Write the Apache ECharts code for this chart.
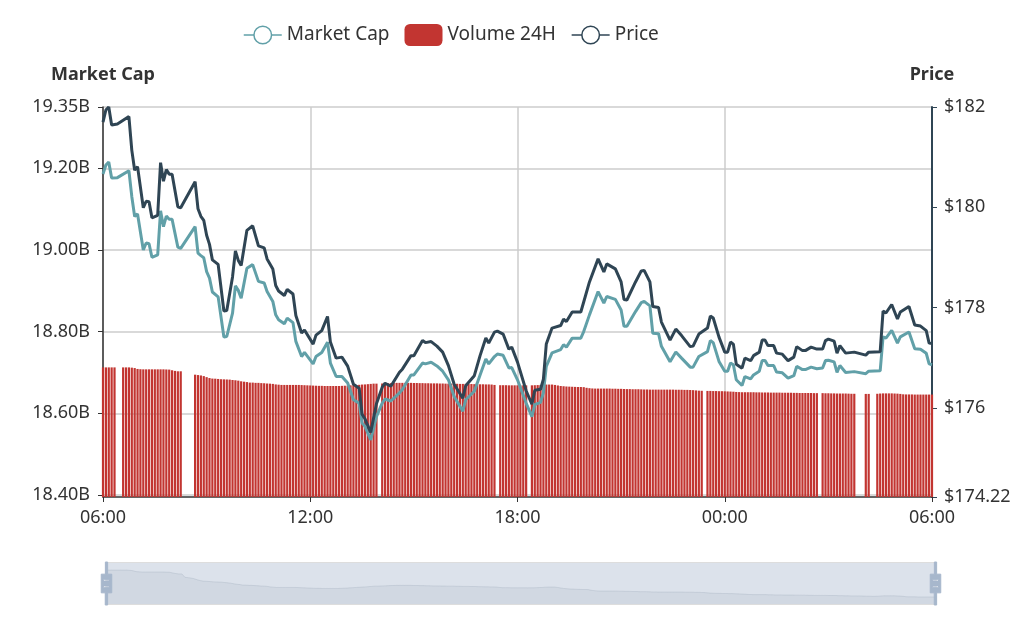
<!DOCTYPE html>
<html>
<head>
<meta charset="utf-8">
<title>Market Cap, Volume 24H, Price</title>
<script src="https://cdn.jsdelivr.net/npm/echarts@6/dist/echarts.min.js"></script>
<style>
  html, body { margin: 0; padding: 0; background: #fff; }
  #main { width: 1022px; height: 622px; }
</style>
</head>
<body>
<div id="main"></div>
<script>
// minutes since the 06:00 start, shared by the two line series
const lineMinutes = [
  0,5,10,15,25,45,50,55,60,70,75,80,85,95,100,105,110,115,120,130,135,160,165,170,175,180,185,190,200,210,215,225,230,235,240,
  250,260,270,280,285,295,300,305,315,320,330,335,345,350,365,370,380,390,395,405,415,425,435,445,450,455,465,475,485,490,
  500,515,520,535,540,555,560,570,580,590,600,610,625,630,645,655,665,670,680,685,695,705,710,720,735,745,750,760,765,770,
  780,795,800,805,815,830,835,845,860,870,875,890,900,905,910,925,935,940,950,955,965,970,985,995,1005,1020,1025,1035,1050,
  1055,1060,1070,1080,1085,1090,1095,1100,1110,1115,1125,1130,1140,1145,1150,1155,1165,1170,1180,1190,1200,1205,1215,1220,
  1230,1240,1250,1255,1260,1270,1275,1280,1290,1305,1325,1330,1350,1355,1360,1370,1380,1385,1400,1410,1420,1430,1435,1440
];
// dollars
const price = [
  181.70,181.94,182.00,181.64,181.66,181.81,181.14,180.74,180.81,179.99,180.12,180.11,179.79,179.84,180.89,180.52,180.75,180.66,180.66,180.01,179.99,180.51,179.97,179.82,179.74,179.44,179.26,178.95,178.86,177.93,177.94,178.61,179.13,178.94,178.84,
  179.54,179.63,179.23,179.19,178.97,178.77,178.44,178.33,178.24,178.36,178.27,177.84,177.49,177.55,177.27,177.45,177.54,177.82,177.31,176.99,177.01,176.83,176.47,176.39,175.87,175.78,175.51,176.08,176.41,176.49,
  176.43,176.71,176.77,177.04,177.04,177.34,177.30,177.32,177.23,177.11,176.84,176.47,176.19,176.44,176.64,177.04,177.39,177.29,177.51,177.53,177.47,177.17,177.21,176.91,176.34,176.07,176.35,176.37,176.57,177.27,
  177.59,177.64,177.77,177.72,177.91,177.91,178.11,178.51,178.97,178.71,178.87,178.77,178.51,178.16,178.15,178.51,178.73,178.74,178.51,178.02,178.00,177.71,177.35,177.57,177.44,177.22,177.23,177.47,177.59,
  177.83,177.79,177.41,177.11,177.11,177.31,177.27,176.87,176.79,176.99,176.94,177.04,177.11,177.35,177.35,177.24,177.24,177.09,177.07,176.94,177.01,177.22,177.14,177.14,
  177.21,177.17,177.17,177.34,177.37,177.33,177.09,177.24,177.09,177.11,177.05,177.11,177.12,177.93,177.89,178.06,177.77,177.91,178.02,177.65,177.63,177.54,177.29,177.28
];
// billions
const marketCap = [
  19.186,19.208,19.215,19.176,19.177,19.194,19.131,19.082,19.088,19.000,19.017,19.015,18.982,18.988,19.096,19.057,19.083,19.075,19.075,19.007,19.004,19.057,18.992,18.986,18.981,18.947,18.931,18.897,18.885,18.787,18.788,18.845,18.912,18.901,18.882,
  18.955,18.964,18.923,18.919,18.898,18.874,18.841,18.829,18.819,18.833,18.822,18.776,18.739,18.749,18.721,18.739,18.749,18.774,18.723,18.690,18.690,18.674,18.633,18.625,18.576,18.568,18.535,18.592,18.625,18.635,
  18.630,18.650,18.658,18.694,18.694,18.723,18.721,18.725,18.716,18.703,18.682,18.641,18.605,18.633,18.654,18.694,18.733,18.721,18.739,18.745,18.742,18.711,18.712,18.682,18.625,18.592,18.621,18.627,18.650,18.715,
  18.748,18.756,18.768,18.762,18.784,18.784,18.800,18.841,18.898,18.870,18.886,18.879,18.853,18.813,18.813,18.849,18.871,18.874,18.863,18.796,18.795,18.764,18.726,18.750,18.735,18.713,18.713,18.739,18.751,
  18.778,18.773,18.727,18.703,18.703,18.723,18.719,18.682,18.668,18.690,18.684,18.694,18.703,18.729,18.729,18.717,18.717,18.701,18.699,18.686,18.692,18.715,18.707,18.707,
  18.713,18.709,18.711,18.729,18.730,18.726,18.700,18.717,18.700,18.702,18.697,18.703,18.704,18.787,18.784,18.803,18.772,18.787,18.799,18.758,18.757,18.747,18.721,18.719
];
// billions, one value every 5 minutes, one row per hour, null where the feed has a hole
const volume = [
  .997,.997,.997,.997,.997,null,null,.997,.997,.997,.995,.992,
  .985,.983,.982,.982,.982,.982,.982,.982,.982,.982,.981,.980,
  .975,.970,.967,.967,null,null,null,null,.941,.938,.935,.930,
  .922,.915,.911,.910,.908,.906,.905,.904,.903,.900,.898,.895,
  .890,.887,.884,.880,.880,.878,.878,.876,.875,.873,.872,.870,
  .866,.864,.862,.862,.862,.862,.862,.862,.862,.861,.860,.859,
  .858,.857,.856,.855,.855,.854,.854,.854,.854,.854,.854,.855,
  .856,.857,.859,.860,.862,.863,.865,.866,.868,.870,.872,.872,
  null,.873,.874,.875,.876,.877,.878,.878,.878,.878,.878,.878,
  .877,.877,.876,.876,.875,.875,.874,.874,.874,.873,.873,.872,
  .872,.872,.871,.871,.870,.870,.870,.869,.869,.868,.868,.867,
  .867,.866,.866,.865,.862,null,.860,.860,.860,.859,.859,.859,
  .859,.859,.859,.859,null,.859,.860,.861,.862,.864,.865,.865,
  .865,.862,.858,.854,.852,.850,.849,.848,.847,.846,.846,.845,
  .840,.837,.835,.834,.834,.834,.834,.834,.834,.833,.833,.832,
  .832,.831,.830,.830,.829,.829,.829,.828,.827,.827,.826,.826,
  .826,.826,.826,.826,.826,.826,.826,.825,.825,.825,.824,.824,
  .823,.822,.820,.818,.817,null,.816,.816,.815,.815,.814,.814,
  .813,.812,.811,.810,.808,.807,.806,.806,.806,.806,.806,.805,
  .805,.804,.804,.804,.803,.803,.803,.803,.802,.802,.802,.802,
  .801,.801,.800,.800,.800,.800,.800,.799,.799,null,.799,.798,
  .798,.797,.797,.796,.796,.796,.796,.795,.794,.794,null,null,
  null,.793,.793,null,null,.794,.796,.797,.797,.797,.797,.796,
  .795,.793,.790,.789,.789,.789,.788,.788,.788,.788,.788,.788,.788
];
const timeLabels = ['06:00', '12:00', '18:00', '00:00', '06:00'];
const capTicks = [18.4, 18.6, 18.8, 19.0, 19.2, 19.35];
const priceTicks = [174.22, 176, 178, 180, 182];

const textColor = '#333';
const font = '"Noto Sans", "Noto Sans CJK SC", sans-serif';
const shadowStyle = {
  lineStyle: { color: '#2f4554', width: 0.5, opacity: 0.3 },
  areaStyle: { color: 'rgba(47,69,84,0.3)', opacity: 0.3 }
};

function pairs(xs, ys) {
  return ys.map((y, i) => [xs[i], y]);
}

function hollow(name, color) {
  return { name: name, itemStyle: { color: '#fff', borderColor: color, borderWidth: 1.5 }, lineStyle: { color: color, width: 1.5 } };
}

let myChart = echarts.init(document.getElementById('main'), null, { renderer: 'canvas' });
myChart.setOption({
  animation: false,
  color: ['#c23531', '#61a0a8', '#2f4554'],
  textStyle: { fontFamily: font, color: textColor },
  legend: {
    left: 238,
    top: 19,
    itemWidth: 38,
    itemHeight: 22,
    itemGap: 15,
    data: [hollow('Market Cap', '#61a0a8'), { name: 'Volume 24H' }, hollow('Price', '#2f4554')],
    textStyle: { fontSize: 19, color: textColor, fontFamily: font }
  },
  grid: { left: 103, right: 90, top: 107, bottom: 125 },
  xAxis: {
    type: 'value',
    min: 0,
    max: 1440,
    interval: 360,
    axisLine: { lineStyle: { color: textColor, width: 1.5 } },
    axisTick: { show: true, lineStyle: { color: textColor } },
    axisLabel: {
      fontSize: 18,
      color: textColor,
      fontFamily: font,
      margin: 12,
      formatter: v => timeLabels[v / 360]
    },
    splitLine: { show: true, lineStyle: { color: '#ccc', width: 1.5 } }
  },
  yAxis: [
    {
      type: 'value',
      name: 'Market Cap',
      nameGap: 23,
      nameTextStyle: { fontSize: 18, fontWeight: 'bold', color: textColor, fontFamily: font },
      min: 18.395,
      max: 19.35,
      position: 'left',
      axisLine: { show: true, lineStyle: { color: textColor, width: 1.5 } },
      axisTick: { show: true, customValues: capTicks, lineStyle: { color: textColor } },
      axisLabel: {
        fontSize: 18,
        color: textColor,
        fontFamily: font,
        margin: 13,
        customValues: capTicks,
        formatter: v => v.toFixed(2) + 'B'
      },
      splitLine: { show: true, lineStyle: { color: '#ccc', width: 1.5 } }
    },
    {
      type: 'value',
      name: 'Price',
      nameGap: 23,
      nameTextStyle: { fontSize: 18, fontWeight: 'bold', color: textColor, fontFamily: font },
      min: 174.22,
      max: 182,
      position: 'right',
      axisLine: { show: true, lineStyle: { color: '#2f4554', width: 2 } },
      axisTick: { show: true, customValues: priceTicks, lineStyle: { color: '#2f4554' } },
      axisLabel: {
        fontSize: 18,
        color: textColor,
        fontFamily: font,
        margin: 12,
        customValues: priceTicks,
        formatter: v => '$' + v
      },
      splitLine: { show: false }
    },
    // volume has no axis of its own in the picture
    { type: 'value', show: false, min: 0, max: 3, splitLine: { show: false } }
  ],
  dataZoom: [{
    type: 'slider',
    xAxisIndex: 0,
    left: 103,
    right: 88,
    top: 562,
    height: 43,
    start: 0,
    end: 100,
    showDetail: false,
    brushSelect: false,
    moveHandleSize: 0,
    backgroundColor: 'rgba(47,69,84,0)',
    borderColor: '#ddd',
    fillerColor: 'rgba(167,183,204,0.4)',
    dataBackground: shadowStyle,
    selectedDataBackground: shadowStyle,
    handleIcon: 'M8.2,13.6V3.9H6.3v9.7H3.1v14.9h3.3v9.7h1.8v-9.7h3.3V13.6H8.2z M9.7,24.4H4.8v-1.4h4.9V24.4z M9.7,19.1H4.8v-1.4h4.9V19.1z',
    handleSize: '100%',
    handleStyle: { color: '#a7b7cc', borderColor: '#a7b7cc' }
  }],
  series: [
    {
      name: 'Volume 24H',
      type: 'bar',
      yAxisIndex: 2,
      barWidth: 2.2,
      itemStyle: { color: '#c23531' },
      // holes are left out so the slider shadow stays continuous
      data: volume.map((v, i) => [i * 5, v]).filter(d => d[1] !== null)
    },
    {
      name: 'Market Cap',
      type: 'line',
      yAxisIndex: 0,
      showSymbol: false,
      symbol: 'circle',
      lineStyle: { width: 3, color: '#61a0a8' },
      itemStyle: { color: '#61a0a8' },
      data: pairs(lineMinutes, marketCap)
    },
    {
      name: 'Price',
      type: 'line',
      yAxisIndex: 1,
      showSymbol: false,
      symbol: 'circle',
      lineStyle: { width: 3, color: '#2f4554' },
      itemStyle: { color: '#2f4554' },
      data: pairs(lineMinutes, price)
    }
  ]
});
</script>
</body>
</html>
